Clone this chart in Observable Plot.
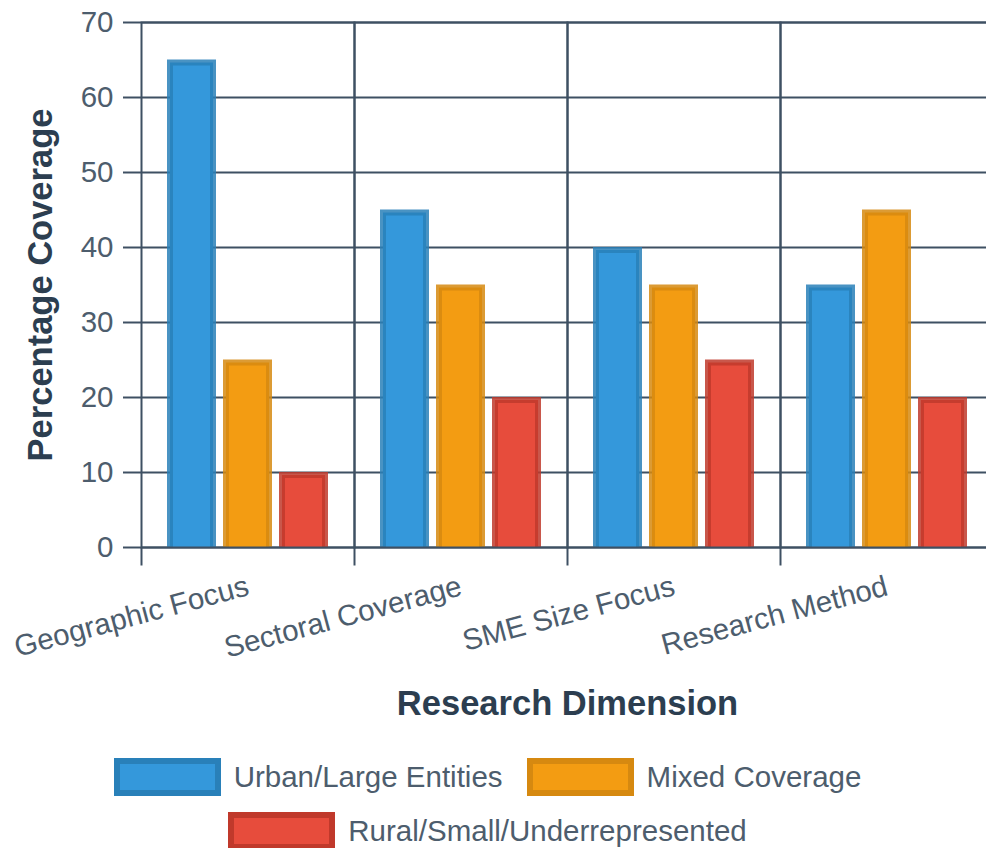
<!DOCTYPE html>
<html>
<head>
<meta charset="utf-8">
<script src="https://cdn.jsdelivr.net/npm/d3@7"></script>
<script src="https://cdn.jsdelivr.net/npm/@observablehq/plot@0.6"></script>
<style>
  html, body { margin: 0; padding: 0; background: #fff; overflow: hidden; }
  body { font-family: "Liberation Sans", Arial, Helvetica, sans-serif; }
  #legend {
    width: 975px; display: flex; flex-wrap: wrap; justify-content: center;
    column-gap: 24px; row-gap: 16px; margin-top: 18px;
  }
  .item { display: flex; align-items: center; gap: 13px; font-size: 29.5px; color: #4d5d6d; line-height: 38px; }
  .sw { width: 107px; height: 38px; box-sizing: border-box; border: 6px solid; }
</style>
</head>
<body>
<div id="chart"></div>
<div id="legend"></div>
<script>
// Research dimensions (groups along the x axis)
const categories = ["Geographic Focus", "Sectoral Coverage", "SME Size Focus", "Research Method"];
// Coverage series
const series = ["Urban/Large Entities", "Mixed Coverage", "Rural/Small/Underrepresented"];
// Percentage coverage per series, one value per dimension
const urbanLarge = [65, 45, 40, 35];
const mixedCoverage = [25, 35, 35, 45];
const ruralSmall = [10, 20, 25, 20];
// y-axis tick values
const yTicks = [0, 10, 20, 30, 40, 50, 60, 70];

// Series styling
const fills = ["#3498db", "#f39c12", "#e74c3c"];
const strokes = ["#2980b9", "#d68910", "#c0392b"];
const gridColor = "#3e5063";
const tickColor = "#4d5d6d";
const titleColor = "#2c3e50";

const values = [urbanLarge, mixedCoverage, ruralSmall];
const rows = [];
series.forEach((s, si) => categories.forEach((c, ci) => {
  rows.push({category: c, series: s, si, value: values[si][ci]});
}));

// Short downward tick at the left edge of each group
const downTick = {draw(context) { context.moveTo(0, 0); context.lineTo(0, 18); }};

const chart = Plot.plot({
  width: 994,
  height: 740,
  marginLeft: 140,
  marginRight: 0,
  marginTop: 22,
  marginBottom: 193,
  axis: null,
  style: {fontFamily: '"Liberation Sans", Arial, Helvetica, sans-serif', maxWidth: "none", overflow: "visible", background: "#fff"},
  fx: {domain: categories, padding: 0},
  x: {domain: series, paddingInner: 0.1228, paddingOuter: 0.434},
  y: {domain: [0, 70]},
  color: {type: "identity"},
  marks: [
    Plot.gridY(yTicks, {stroke: gridColor, strokeOpacity: 1, strokeWidth: 2}),
    Plot.barY(rows, {
      fx: "category", x: "series", y: "value",
      fill: d => fills[d.si], stroke: d => strokes[d.si],
      strokeWidth: 6, strokeOpacity: 0.85,
      insetLeft: 3, insetRight: 3, insetTop: 3, insetBottom: -4,
      clip: true
    }),
    Plot.frame({stroke: gridColor, strokeWidth: 2}),
    Plot.dot([0], {frameAnchor: "bottom-left", symbol: downTick, r: 5, stroke: gridColor, strokeWidth: 2, fill: "none"}),
    Plot.axisY(yTicks, {
      tickSize: 18, tickPadding: 10, fontSize: 29.5, stroke: gridColor, strokeWidth: 2,
      color: tickColor, label: null
    }),
    Plot.axisFx({
      anchor: "bottom", tickSize: 0, tickPadding: 38, tickRotate: -15,
      fontSize: 29.5, color: tickColor, label: null
    }),
    Plot.text(["Percentage Coverage"], {
      facet: "super", frameAnchor: "left", textAnchor: "middle", lineAnchor: "middle",
      rotate: -90, dx: -101,
      fontSize: 34.5, fontWeight: "bold", fill: titleColor
    }),
    Plot.text(["Research Dimension"], {
      facet: "super", frameAnchor: "bottom", textAnchor: "middle", lineAnchor: "middle",
      dy: 156,
      fontSize: 34.5, fontWeight: "bold", fill: titleColor
    })
  ]
});
document.getElementById("chart").append(chart);

// Legend below the chart
const legend = d3.select("#legend");
series.forEach((s, i) => {
  const item = legend.append("div").attr("class", "item");
  item.append("div").attr("class", "sw").style("background", fills[i]).style("border-color", strokes[i]);
  item.append("span").text(s);
});
</script>
</body>
</html>
